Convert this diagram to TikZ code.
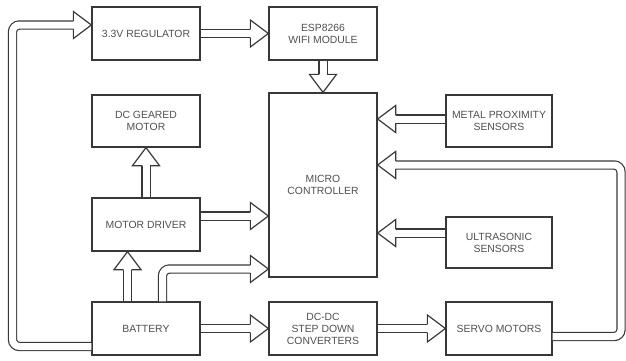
\documentclass[tikz,border=0pt]{standalone}
\usepackage{fontspec}
\setmainfont{Liberation Sans}
\usetikzlibrary{calc}
\definecolor{linec}{HTML}{383838}
\definecolor{textc}{HTML}{505050}
\tikzset{
  blk/.style={draw=linec, line width=1.3pt, fill=white, minimum width=108pt, minimum height=53pt,
    inner sep=0pt, align=center, text=textc, font=\fontsize{10.4}{12}\selectfont},
  pipe/.style={draw=linec, line width=1.2pt, double=white, double distance=7pt, line cap=butt, shorten >=17.5pt},
  headst/.style={draw=linec, line width=1.2pt, fill=white, line join=miter},
  ahead/.pic={\draw[headst] (-18,-4.1) -- (-18,-13.5) -- (0,0) -- (-18,13.5) -- (-18,4.1);}
}
\begin{document}
\begin{tikzpicture}[x=1pt,y=-1pt]
\useasboundingbox (0,0) rectangle (626,360);
% blocks
\node[blk] (reg)   at (146,33.5) {3.3V REGULATOR};
\node[blk] (wifi)  at (323,33.5) {ESP8266\\WIFI MODULE};
\node[blk, minimum height=52pt] (dcm) at (146,121) {DC GEARED\\MOTOR};
\node[blk, minimum height=184pt] (mc) at (323,185) {MICRO\\CONTROLLER};
\node[blk, minimum width=106pt, minimum height=52pt] (metal) at (499,121) {METAL PROXIMITY\\SENSORS};
\node[blk] (md)    at (146,224.5) {MOTOR DRIVER};
\node[blk, minimum width=106pt, minimum height=51pt] (ultra) at (499,242.5) {ULTRASONIC\\SENSORS};
\node[blk] (bat)   at (146,328.5) {BATTERY};
\node[blk] (dcdc)  at (323,328.5) {DC-DC\\STEP DOWN\\CONVERTERS};
\node[blk, minimum width=106pt] (servo) at (499,328.5) {SERVO MOTORS};
% helper points
\coordinate (lp) at (12.5,25);
\coordinate (sp) at (621,165);
% straight arrows
\draw[pipe] (reg.east) -- (wifi.west);
\pic at (wifi.west) {ahead};
\draw[pipe] (wifi.south) -- (mc.north);
\pic[rotate=-90] at (mc.north) {ahead};
\draw[pipe] ($(metal.west)+(0,-2)$) -- ($(metal.west -| mc.east)+(0,-2)$);
\pic[rotate=180] at ($(metal.west -| mc.east)+(0,-2)$) {ahead};
\draw[pipe] ($(ultra.west)+(0,-9.5)$) -- ($(ultra.west -| mc.east)+(0,-9.5)$);
\pic[rotate=180] at ($(ultra.west -| mc.east)+(0,-9.5)$) {ahead};
\draw[pipe] (md.north) -- (dcm.south);
\pic[rotate=90] at (dcm.south) {ahead};
\draw[pipe] ($(md.east)+(0,-8.5)$) -- ($(md.east -| mc.west)+(0,-8.5)$);
\pic at ($(md.east -| mc.west)+(0,-8.5)$) {ahead};
\draw[pipe] ($(bat.north)+(-18.5,0)$) -- ($(md.south)+(-18.5,0)$);
\pic[rotate=90] at ($(md.south)+(-18.5,0)$) {ahead};
\draw[pipe] (bat.east) -- (dcdc.west);
\pic at (dcdc.west) {ahead};
\draw[pipe] (dcdc.east) -- (servo.west);
\pic at (servo.west) {ahead};
% bent arrows
\draw[pipe, rounded corners=7pt] ($(bat.north)+(16.5,0)$) |- (mc.west |- 0,269);
\pic at (mc.west |- 0,269) {ahead};
\draw[pipe, rounded corners=7pt] ($(bat.west)+(0,18)$) -| (lp) -- (reg.west |- lp);
\pic at (reg.west |- lp) {ahead};
\draw[pipe, rounded corners=7pt] ($(servo.east)+(0,8)$) -| (sp) -- (mc.east |- sp);
\pic[rotate=180] at (mc.east |- sp) {ahead};
\end{tikzpicture}
\end{document}
